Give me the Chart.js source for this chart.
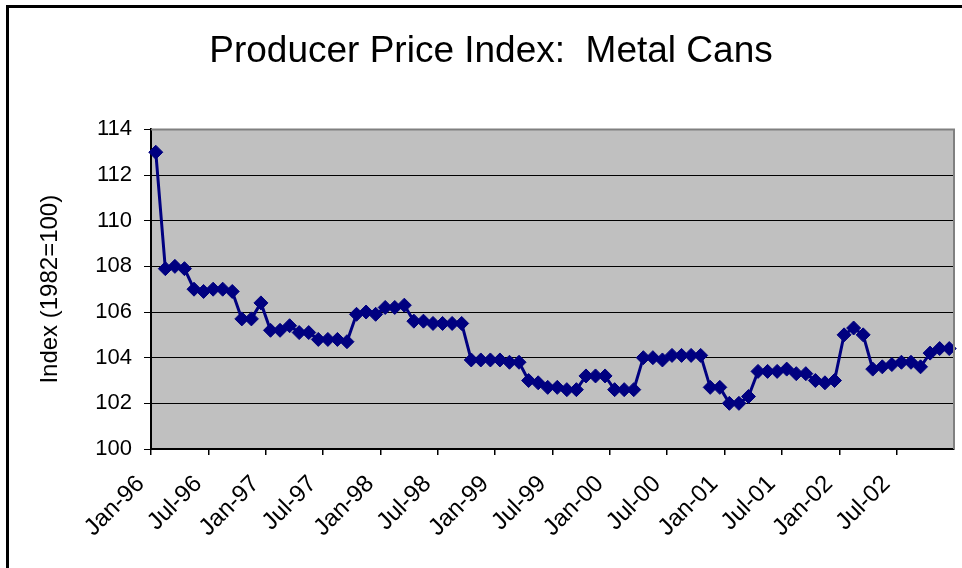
<!DOCTYPE html>
<html>
<head>
<meta charset="utf-8">
<script src="https://cdn.jsdelivr.net/npm/chart.js@4/dist/chart.umd.min.js"></script>
<style>
  body { margin: 0; background: #fff; }
  canvas { display: block; }
</style>
</head>
<body>
<canvas id="ppiChart" width="962" height="568"></canvas>
<script>
// monthly categories, Jan-96 .. Dec-02
const monthNames = ["Jan", "Feb", "Mar", "Apr", "May", "Jun", "Jul", "Aug", "Sep", "Oct", "Nov", "Dec"];
const years = ["96", "97", "98", "99", "00", "01", "02"];
const categories = [];
years.forEach(y => monthNames.forEach(m => categories.push(m + "-" + y)));

// index values (1982=100)
const ppiValues = [
    113.0, 107.9, 108.0, 107.9, 107.0, 106.9, 107.0, 107.0, 106.9, 105.7, 105.7, 106.4,
    105.2, 105.2, 105.4, 105.1, 105.1, 104.8, 104.8, 104.8, 104.7, 105.9, 106.0, 105.9,
    106.2, 106.2, 106.3, 105.6, 105.6, 105.5, 105.5, 105.5, 105.5, 103.9, 103.9, 103.9,
    103.9, 103.8, 103.8, 103.0, 102.9, 102.7, 102.7, 102.6, 102.6, 103.2, 103.2, 103.2,
    102.6, 102.6, 102.6, 104.0, 104.0, 103.9, 104.1, 104.1, 104.1, 104.1, 102.7, 102.7,
    102.0, 102.0, 102.3, 103.4, 103.4, 103.4, 103.5, 103.3, 103.3, 103.0, 102.9, 103.0,
    105.0, 105.3, 105.0, 103.5, 103.6, 103.7, 103.8, 103.8, 103.6, 104.2, 104.4, 104.4
];

const yTicks = [100, 102, 104, 106, 108, 110, 112, 114];
const labelEvery = 6;

const FONT = "'Liberation Sans', Arial, sans-serif";

// grey plot area, grey top/right border, black outer frame
const frame = {
    id: 'frame',
    beforeDraw(chart) {
        const { ctx, chartArea: a } = chart;
        ctx.save();
        ctx.fillStyle = '#c0c0c0';
        ctx.fillRect(a.left, a.top, a.right - a.left, a.bottom - a.top);
        ctx.restore();
    },
    afterDraw(chart) {
        const { ctx, chartArea: a } = chart;
        ctx.save();
        ctx.strokeStyle = '#808080';
        ctx.lineWidth = 2;
        ctx.beginPath();
        ctx.moveTo(a.left, a.top);
        ctx.lineTo(a.right, a.top);
        ctx.lineTo(a.right, a.bottom);
        ctx.stroke();
        ctx.strokeStyle = '#000';
        ctx.lineWidth = 3;
        ctx.strokeRect(7.5, 6.5, 2000, 2000);
        ctx.restore();
    }
};

const ctx = document.getElementById('ppiChart').getContext('2d');
const ppiChart = new Chart(ctx, {
    type: 'line',
    data: {
        labels: categories,
        datasets: [{
            label: 'Metal Cans',
            data: ppiValues,
            borderColor: '#000080',
            backgroundColor: '#000080',
            borderWidth: 3,
            pointStyle: 'rectRot',
            pointRadius: 7,
            pointBorderWidth: 1,
            tension: 0
        }]
    },
    options: {
        responsive: false,
        animation: false,
        layout: { padding: { left: 27, right: 7, top: 0, bottom: 0 } },
        plugins: {
            legend: { display: false },
            tooltip: { enabled: false },
            title: {
                display: true,
                text: 'Producer Price Index:  Metal Cans',
                color: '#000',
                font: { family: FONT, size: 37, weight: 'normal' },
                padding: { top: 30, bottom: 55 }
            }
        },
        scales: {
            x: {
                offset: true,
                grid: {
                    offset: true,
                    drawOnChartArea: false,
                    tickLength: 6,
                    lineWidth: 1.5,
                    tickColor: c => (c.index % labelEvery === 0 ? '#000' : 'rgba(0,0,0,0)')
                },
                border: { color: '#000', width: 2 },
                ticks: {
                    autoSkip: false,
                    maxRotation: 45,
                    minRotation: 45,
                    padding: 15,
                    labelOffset: -15,
                    color: '#000',
                    font: { family: FONT, size: 24 },
                    callback: (v, i) => (i % labelEvery === 0 ? categories[i] : '')
                },
                afterFit: s => {
                    s.height = 119;
                    s.paddingLeft = 0;
                    s.paddingRight = 0;
                }
            },
            y: {
                min: 100,
                max: 114,
                afterBuildTicks: s => { s.ticks = yTicks.map(v => ({ value: v })); },
                grid: { color: '#000', lineWidth: 1, tickLength: 7, tickColor: '#000' },
                border: { color: '#000', width: 2 },
                ticks: {
                    padding: 12,
                    color: '#000',
                    font: { family: FONT, size: 22 }
                },
                title: {
                    display: true,
                    text: 'Index (1982=100)',
                    color: '#000',
                    font: { family: FONT, size: 24 },
                    padding: { top: 9, bottom: 0 }
                },
                afterFit: s => {
                    s.width = 124;
                    s.paddingTop = 0;
                    s.paddingBottom = 0;
                }
            }
        }
    },
    plugins: [frame]
});
</script>
</body>
</html>
